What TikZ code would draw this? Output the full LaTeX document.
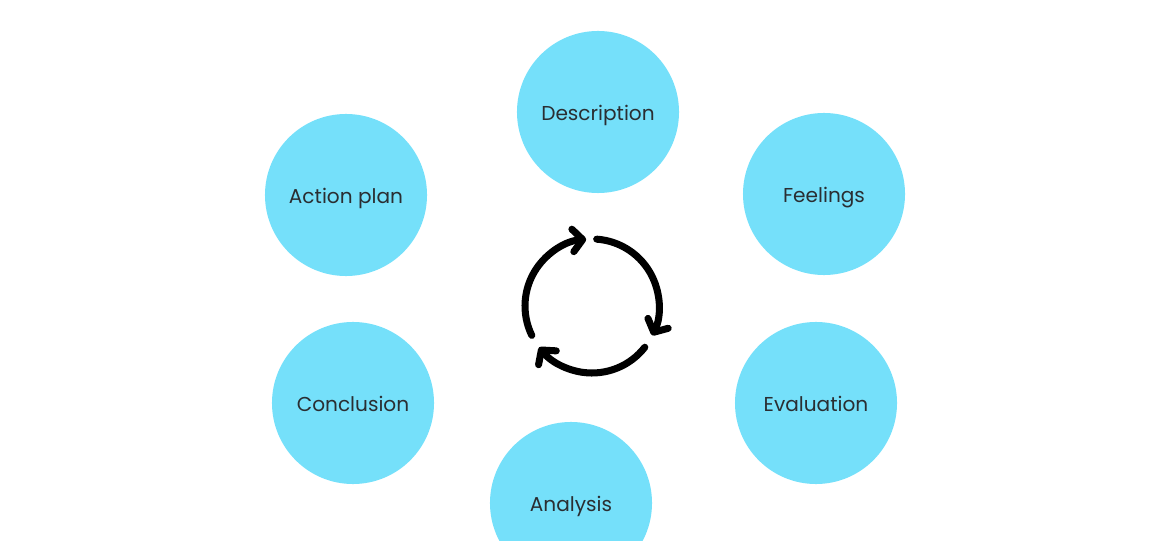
\documentclass[tikz,border=0pt]{standalone}
\usepackage{fontspec}
\setmainfont{Poppins}
\usetikzlibrary{arrows.meta}
\definecolor{skyblue}{RGB}{117,224,250}
\definecolor{inkgray}{RGB}{42,46,50}
\begin{document}
\begin{tikzpicture}[x=0.025cm, y=0.025cm, font=\fontsize{14.3}{17}\selectfont, line join=round, line cap=round,
		>={Straight Barb[length=7pt,width=16pt,round]},
		stage/.style={circle, fill=skyblue, text=inkgray, minimum size=4.05cm, inner sep=0pt,
			text height=12.5pt, text depth=0pt},
		cycle arc/.style={->, line width=5pt}]
	\useasboundingbox (0,0) rectangle (1170,540);
	\foreach \nm/\px/\py/\txt in {desc/598/428/Description, feel/824/346/Feelings, eval/816/137/Evaluation,
		anal/571/37/Analysis, concl/353/137/Conclusion, plan/346/345/Action plan}
		\node[stage] (\nm) at (\px,\py) {\txt};
	% cycle icon
	\coordinate (cyc) at (592,234);
	\draw[cycle arc] (cyc) ++(206:67) arc[start angle=206, end angle=95, radius=67];
	\draw[cycle arc] (cyc) ++(86:67) arc[start angle=86, end angle=-26, radius=67];
	\draw[cycle arc] (cyc) ++(-38:67) arc[start angle=-38, end angle=-142, radius=67];
\end{tikzpicture}
\end{document}
